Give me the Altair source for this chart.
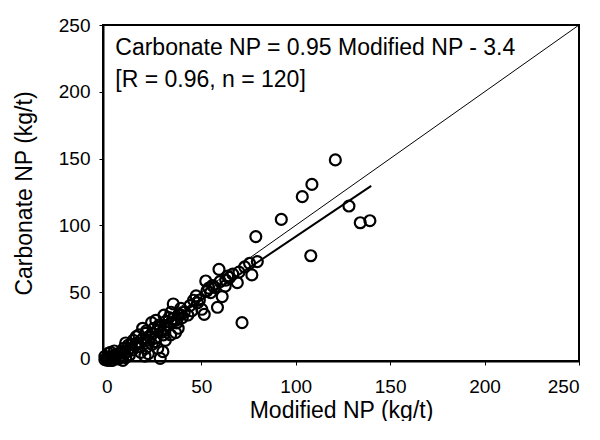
import altair as alt
import pandas as pd

# Scatter data (kg/t)
mod_np = [121, 108.6, 103.5, 92.4, 128.2, 134.2, 139.3, 108, 78.9, 79.7,
          75.6, 76.8, 71.6, 66.7, 69.1, 59.4, 62.7, 61.1, 58.6, 52.4,
          55, 57, 47.3, 50.3, 51.6, 42.9, 39.2, 35.2, 36.8, 36.4,
          33.8, 37.8, 30.3, 27.7, 30.7, 23.7, 24.3, 25.7, 20.6, 15.6,
          16.6, 11.5, 13.5, 20.6, 20.2, 29.7, 28.3, 9.5, 8.5, 0.8,
          0.4, 4.4, -1,
          44, 46, 48, 53, 56, 63, 65, 70, 73,
          45, 41, 40, 38, 34, 33, 32, 31, 29, 28,
          27, 26, 25, 24, 23, 22, 21, 19, 18, 17,
          16, 15, 14, 13, 12, 12, 11, 10, 10, 9,
          8, 7, 6, 6, 5, 3, 2, 2, 1, 0,
          -1, 3, 4, 18, 22, 27, 30, 34, 37,
          49, 54, 60, 64, 35, 39, 31, 19, 26]
carb_np = [149, 130.7, 121.5, 104.5, 114.5, 102, 103.5, 77.3, 91.6, 72.9,
           71.6, 62.9, 27.2, 63.6, 57.1, 67.1, 54.6, 46.7, 38.7, 58.4,
           49.7, 53.6, 47.2, 37.2, 33.4, 32.9, 37.9, 41.2, 29.2, 19.7,
           18, 23, 32.9, 25.4, 23, 27.2, 19.2, 13, 19.2, 16.7,
           9.2, 10.5, 6.7, 8, 2.2, 5.5, 0.5, 4.2, -1, 4.2,
           -1, 0.5, -0.5,
           40, 44, 42, 51, 55, 59, 61, 65, 69,
           36, 35, 31, 33, 27, 31, 25, 28, 20, 24,
           21, 16, 23, 11, 16, 14, 21, 15, 12, 18,
           12, 10, 14, 11, 8, 3, 6, 1, 12, 8,
           5, 2, 4, 0, 3, 2, 5, -1, 1, 0,
           2, -1, 6, 5, 4, 8, 18, 35, 27,
           44, 53, 58, 62, 30, 33, 14, 23, 29]

# 1:1 line and regression line endpoints
one_x = [0, 250]
one_y = [0, 250]
reg_x = [0, 140]
reg_y = [-3.4, 129.6]

ann_text = ["Carbonate NP = 0.95 Modified NP - 3.4", "[R = 0.96, n = 120]"]
ann_x = [4.5, 4.5]
ann_y = [233, 209]

FONT = "Liberation Sans"

pts = pd.DataFrame({"x": mod_np, "y": carb_np})
one = pd.DataFrame({"x": one_x, "y": one_y})
reg = pd.DataFrame({"x": reg_x, "y": reg_y})
ann = pd.DataFrame({"x": ann_x, "y": ann_y, "t": ann_text})

xs = alt.Scale(domain=[-2, 250], nice=False, zero=False)
ys = alt.Scale(domain=[-1.5, 250], nice=False, zero=False)

xaxis = alt.Axis(values=[0, 50, 100, 150, 200, 250], title="Modified NP (kg/t)",
                 grid=False, tickSize=4, labelPadding=12, titlePadding=3)
yaxis = alt.Axis(values=[0, 50, 100, 150, 200, 250], title="Carbonate NP (kg/t)",
                 grid=False, tickSize=4, labelPadding=9, titlePadding=22)

points = alt.Chart(pts).mark_point(
    shape="circle", filled=False, color="black", strokeWidth=2.2, size=120, opacity=1
).encode(
    x=alt.X("x:Q", scale=xs, axis=xaxis),
    y=alt.Y("y:Q", scale=ys, axis=yaxis),
)

line11 = alt.Chart(one).mark_line(color="black", strokeWidth=1, clip=True).encode(
    x=alt.X("x:Q", scale=xs), y=alt.Y("y:Q", scale=ys)
)
regline = alt.Chart(reg).mark_line(color="black", strokeWidth=2, clip=True).encode(
    x=alt.X("x:Q", scale=xs), y=alt.Y("y:Q", scale=ys)
)
text = alt.Chart(ann).mark_text(
    align="left", baseline="middle", font=FONT, fontSize=23, color="black"
).encode(
    x=alt.X("x:Q", scale=xs), y=alt.Y("y:Q", scale=ys), text="t:N"
)

chart = alt.layer(line11, regline, points, text).properties(
    width=476, height=336,
    autosize=alt.AutoSizeParams(type="none"),
    padding={"left": 95, "top": 17, "right": 13, "bottom": 60},
).configure_view(
    stroke="black", strokeWidth=2
).configure_axis(
    labelFont=FONT, titleFont=FONT, labelFontSize=19, titleFontSize=23,
    labelColor="black", titleColor="black", domainColor="black", domainWidth=2,
    tickColor="black", tickWidth=1, titleFontWeight="normal",
)

chart.save("out.html", embed_options={"renderer": "svg", "actions": False})
